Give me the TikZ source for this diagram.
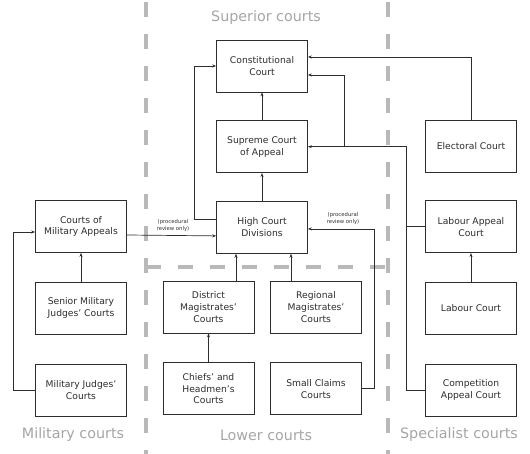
\documentclass[tikz,border=0pt]{standalone}
\usepackage{fontspec}
\setmainfont{DejaVu Sans}
\usetikzlibrary{arrows.meta,positioning,calc}
\definecolor{ink}{RGB}{45,45,45}
\definecolor{soft}{RGB}{165,165,165}
\definecolor{divider}{RGB}{185,185,185}
\tikzset{
  every picture/.style={color=ink, line width=0.7pt},
  court/.style={draw=ink, fill=white, align=center, minimum width=91pt, minimum height=52pt,
    inner sep=2pt, font=\fontsize{9.2}{11.8}\selectfont},
  flow/.style={-{Stealth[length=4pt,width=3pt]}, line width=0.7pt},
  tier/.style={font=\fontsize{14.3}{16}\selectfont, text=soft},
  aside/.style={font=\fontsize{5.3}{6.3}\selectfont, align=center, inner sep=0.5pt},
  divide/.style={draw=divider, line width=4pt, dash pattern=on 15pt off 17pt},
}
\begin{document}
\begin{tikzpicture}[x=1pt, y=-1pt, node distance=29pt and 36pt]
  \useasboundingbox (0,0) rectangle (530,454);
  % tiers
  \draw[divide] (146,2) -- (146,454);
  \draw[divide] (388,2) -- (388,454);
  \draw[divide] (146,267) -- (388,267);
  \node[tier] (suphead) at (266,18) {Superior courts};
  \node[tier] (milhead) at (73,435) {Military courts};
  \node[tier] (lowhead) at (266,435) {Lower courts};
  \node[tier] (spehead) at (459,435) {Specialist courts};
  % superior courts
  \node[court] (const) at (262,66) {Constitutional\\Court};
  \node[court, below=28pt of const] (supreme) {Supreme Court\\of Appeal};
  \node[court, below=28pt of supreme] (high) {High Court\\Divisions};
  % military courts
  \node[court] (cma) at (81,226.5) {Courts of\\Military Appeals};
  \node[court, below=29pt of cma] (smj) {Senior Military\\Judges' Courts};
  \node[court, below=29pt of smj] (mj) {Military Judges'\\Courts};
  % lower courts
  \node[court] (dist) at (208.5,307) {District\\Magistrates'\\Courts};
  \node[court, below=29pt of dist] (chiefs) {Chiefs' and\\Headmen's\\Courts};
  \node[court] (regional) at (316,307) {Regional\\Magistrates'\\Courts};
  \node[court, below=29pt of regional] (small) {Small Claims\\Courts};
  % specialist courts
  \node[court] (electoral) at (471,146) {Electoral Court};
  \node[court, below=28pt of electoral] (labappeal) {Labour Appeal\\Court};
  \node[court, below=29pt of labappeal] (labour) {Labour Court};
  \node[court, below=29pt of labour] (competition) {Competition\\Appeal Court};
  % appeals
  \draw[flow] (supreme) -- (const);
  \draw[flow] (high) -- (supreme);
  \draw[flow] ([yshift=8.5pt]high.west) -- ++(-22,0) |- (const.west);
  \draw[flow] (electoral.north) |- ([yshift=9pt]const.east);
  \draw[flow] (competition.west) -- ++(-19,0) |- (supreme.east);
  \draw (labappeal.west) -- ++(-19,0);
  \coordinate (split) at ($(supreme.east)+(36,0)$);
  \draw[flow] (split) |- ([yshift=-9pt]const.east);
  \draw[flow] (small.east) -- ++(12,0) |- ([yshift=-1.5pt]high.east);
  \node[aside] (procsmall) at (343,218.5) {(procedural\\review only)};
  \draw[flow] ([yshift=-8.5pt]cma.east) -- ([yshift=-8.5pt]high.west);
  \node[aside] (proccma) at (173,225.5) {(procedural\\review only)};
  \draw[flow] (mj.west) -- ++(-22,0) |- ([yshift=-5.5pt]cma.west);
  \draw[flow] (smj) -- (cma);
  \draw[flow] ([xshift=-26pt]high.south |- dist.north) -- ([xshift=-26pt]high.south);
  \draw[flow] ([xshift=29pt]high.south |- regional.north) -- ([xshift=29pt]high.south);
  \draw[flow] (chiefs) -- (dist);
  \draw[flow] (labour) -- (labappeal);
\end{tikzpicture}
\end{document}
